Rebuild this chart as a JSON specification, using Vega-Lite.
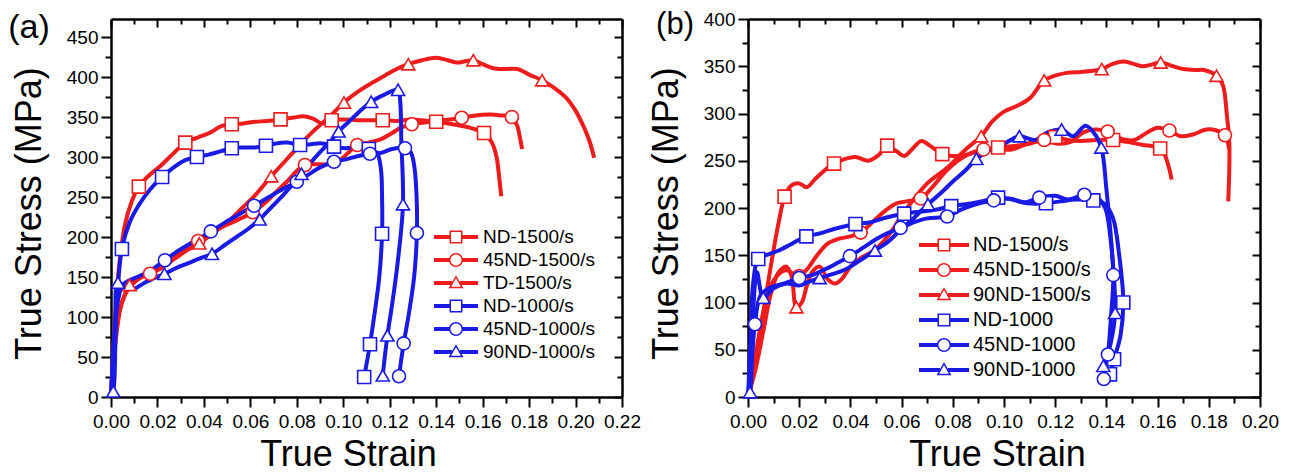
{
  "$schema": "https://vega.github.io/schema/vega-lite/v6.json",
  "padding": {"left": 8, "top": 8, "right": 0, "bottom": 0},
  "background": "white",
  "datasets": {
    "a_lines": [
      {"s":"ND-1500/s","x":0,"y":0},{"s":"ND-1500/s","x":0.001,"y":60},{"s":"ND-1500/s","x":0.003,"y":150},{"s":"ND-1500/s","x":0.006,"y":215},{"s":"ND-1500/s","x":0.009,"y":245},{"s":"ND-1500/s","x":0.012,"y":263},{"s":"ND-1500/s","x":0.016,"y":276},{"s":"ND-1500/s","x":0.021,"y":288},{"s":"ND-1500/s","x":0.026,"y":302},{"s":"ND-1500/s","x":0.032,"y":318},{"s":"ND-1500/s","x":0.037,"y":324},{"s":"ND-1500/s","x":0.043,"y":331},{"s":"ND-1500/s","x":0.047,"y":338},{"s":"ND-1500/s","x":0.052,"y":341},{"s":"ND-1500/s","x":0.057,"y":342},{"s":"ND-1500/s","x":0.062,"y":344},{"s":"ND-1500/s","x":0.067,"y":345},{"s":"ND-1500/s","x":0.073,"y":347},{"s":"ND-1500/s","x":0.078,"y":349},{"s":"ND-1500/s","x":0.083,"y":351},{"s":"ND-1500/s","x":0.087,"y":348},{"s":"ND-1500/s","x":0.091,"y":342},{"s":"ND-1500/s","x":0.095,"y":346},{"s":"ND-1500/s","x":0.1,"y":347},{"s":"ND-1500/s","x":0.106,"y":346},{"s":"ND-1500/s","x":0.111,"y":346},{"s":"ND-1500/s","x":0.117,"y":346},{"s":"ND-1500/s","x":0.123,"y":345},{"s":"ND-1500/s","x":0.129,"y":347},{"s":"ND-1500/s","x":0.134,"y":346},{"s":"ND-1500/s","x":0.14,"y":344},{"s":"ND-1500/s","x":0.147,"y":341},{"s":"ND-1500/s","x":0.154,"y":337},{"s":"ND-1500/s","x":0.1606,"y":330},{"s":"ND-1500/s","x":0.164,"y":318},{"s":"ND-1500/s","x":0.166,"y":300},{"s":"ND-1500/s","x":0.167,"y":278},{"s":"ND-1500/s","x":0.168,"y":251},
      {"s":"45ND-1500/s","x":0,"y":0},{"s":"45ND-1500/s","x":0.001,"y":50},{"s":"45ND-1500/s","x":0.003,"y":100},{"s":"45ND-1500/s","x":0.006,"y":128},{"s":"45ND-1500/s","x":0.009,"y":140},{"s":"45ND-1500/s","x":0.013,"y":150},{"s":"45ND-1500/s","x":0.0168,"y":154},{"s":"45ND-1500/s","x":0.021,"y":160},{"s":"45ND-1500/s","x":0.026,"y":170},{"s":"45ND-1500/s","x":0.031,"y":180},{"s":"45ND-1500/s","x":0.0375,"y":195},{"s":"45ND-1500/s","x":0.043,"y":205},{"s":"45ND-1500/s","x":0.049,"y":214},{"s":"45ND-1500/s","x":0.055,"y":222},{"s":"45ND-1500/s","x":0.061,"y":231},{"s":"45ND-1500/s","x":0.066,"y":242},{"s":"45ND-1500/s","x":0.071,"y":256},{"s":"45ND-1500/s","x":0.076,"y":270},{"s":"45ND-1500/s","x":0.0805,"y":284},{"s":"45ND-1500/s","x":0.0835,"y":290},{"s":"45ND-1500/s","x":0.088,"y":291},{"s":"45ND-1500/s","x":0.093,"y":291},{"s":"45ND-1500/s","x":0.098,"y":295},{"s":"45ND-1500/s","x":0.102,"y":305},{"s":"45ND-1500/s","x":0.106,"y":315},{"s":"45ND-1500/s","x":0.111,"y":318},{"s":"45ND-1500/s","x":0.116,"y":322},{"s":"45ND-1500/s","x":0.121,"y":330},{"s":"45ND-1500/s","x":0.125,"y":337},{"s":"45ND-1500/s","x":0.1295,"y":341},{"s":"45ND-1500/s","x":0.135,"y":343},{"s":"45ND-1500/s","x":0.14,"y":345},{"s":"45ND-1500/s","x":0.146,"y":347},{"s":"45ND-1500/s","x":0.151,"y":349},{"s":"45ND-1500/s","x":0.157,"y":352},{"s":"45ND-1500/s","x":0.163,"y":353},{"s":"45ND-1500/s","x":0.168,"y":352},{"s":"45ND-1500/s","x":0.1726,"y":350},{"s":"45ND-1500/s","x":0.175,"y":338},{"s":"45ND-1500/s","x":0.176,"y":325},{"s":"45ND-1500/s","x":0.177,"y":310},
      {"s":"TD-1500/s","x":0,"y":0},{"s":"TD-1500/s","x":0.002,"y":70},{"s":"TD-1500/s","x":0.004,"y":110},{"s":"TD-1500/s","x":0.006,"y":128},{"s":"TD-1500/s","x":0.008,"y":140},{"s":"TD-1500/s","x":0.012,"y":148},{"s":"TD-1500/s","x":0.017,"y":156},{"s":"TD-1500/s","x":0.022,"y":165},{"s":"TD-1500/s","x":0.028,"y":176},{"s":"TD-1500/s","x":0.033,"y":184},{"s":"TD-1500/s","x":0.038,"y":192},{"s":"TD-1500/s","x":0.044,"y":205},{"s":"TD-1500/s","x":0.05,"y":218},{"s":"TD-1500/s","x":0.056,"y":235},{"s":"TD-1500/s","x":0.062,"y":252},{"s":"TD-1500/s","x":0.069,"y":276},{"s":"TD-1500/s","x":0.075,"y":295},{"s":"TD-1500/s","x":0.081,"y":314},{"s":"TD-1500/s","x":0.087,"y":332},{"s":"TD-1500/s","x":0.094,"y":350},{"s":"TD-1500/s","x":0.1003,"y":368},{"s":"TD-1500/s","x":0.106,"y":381},{"s":"TD-1500/s","x":0.112,"y":392},{"s":"TD-1500/s","x":0.118,"y":402},{"s":"TD-1500/s","x":0.123,"y":410},{"s":"TD-1500/s","x":0.128,"y":416},{"s":"TD-1500/s","x":0.134,"y":421},{"s":"TD-1500/s","x":0.14,"y":424},{"s":"TD-1500/s","x":0.145,"y":421},{"s":"TD-1500/s","x":0.149,"y":418},{"s":"TD-1500/s","x":0.153,"y":420},{"s":"TD-1500/s","x":0.156,"y":421},{"s":"TD-1500/s","x":0.16,"y":416},{"s":"TD-1500/s","x":0.1645,"y":411},{"s":"TD-1500/s","x":0.17,"y":410},{"s":"TD-1500/s","x":0.175,"y":410},{"s":"TD-1500/s","x":0.18,"y":403},{"s":"TD-1500/s","x":0.1856,"y":396},{"s":"TD-1500/s","x":0.191,"y":386},{"s":"TD-1500/s","x":0.196,"y":374},{"s":"TD-1500/s","x":0.2,"y":358},{"s":"TD-1500/s","x":0.203,"y":341},{"s":"TD-1500/s","x":0.206,"y":320},{"s":"TD-1500/s","x":0.208,"y":299},
      {"s":"ND-1000/s","x":0,"y":0},{"s":"ND-1000/s","x":0.001,"y":60},{"s":"ND-1000/s","x":0.003,"y":140},{"s":"ND-1000/s","x":0.0047,"y":185},{"s":"ND-1000/s","x":0.008,"y":218},{"s":"ND-1000/s","x":0.012,"y":240},{"s":"ND-1000/s","x":0.017,"y":260},{"s":"ND-1000/s","x":0.022,"y":275},{"s":"ND-1000/s","x":0.027,"y":287},{"s":"ND-1000/s","x":0.032,"y":296},{"s":"ND-1000/s","x":0.037,"y":300},{"s":"ND-1000/s","x":0.042,"y":303},{"s":"ND-1000/s","x":0.047,"y":307},{"s":"ND-1000/s","x":0.052,"y":311},{"s":"ND-1000/s","x":0.057,"y":312},{"s":"ND-1000/s","x":0.062,"y":312},{"s":"ND-1000/s","x":0.0667,"y":314},{"s":"ND-1000/s","x":0.071,"y":317},{"s":"ND-1000/s","x":0.076,"y":318},{"s":"ND-1000/s","x":0.0814,"y":315},{"s":"ND-1000/s","x":0.086,"y":316},{"s":"ND-1000/s","x":0.091,"y":317},{"s":"ND-1000/s","x":0.096,"y":313},{"s":"ND-1000/s","x":0.101,"y":311},{"s":"ND-1000/s","x":0.106,"y":312},{"s":"ND-1000/s","x":0.111,"y":310},{"s":"ND-1000/s","x":0.1145,"y":305},{"s":"ND-1000/s","x":0.1162,"y":285},{"s":"ND-1000/s","x":0.1167,"y":250},{"s":"ND-1000/s","x":0.1167,"y":204},{"s":"ND-1000/s","x":0.1155,"y":150},{"s":"ND-1000/s","x":0.1135,"y":105},{"s":"ND-1000/s","x":0.1115,"y":66},{"s":"ND-1000/s","x":0.109,"y":25},
      {"s":"45ND-1000/s","x":0,"y":0},{"s":"45ND-1000/s","x":0.001,"y":50},{"s":"45ND-1000/s","x":0.003,"y":120},{"s":"45ND-1000/s","x":0.005,"y":140},{"s":"45ND-1000/s","x":0.008,"y":146},{"s":"45ND-1000/s","x":0.012,"y":151},{"s":"45ND-1000/s","x":0.017,"y":158},{"s":"45ND-1000/s","x":0.0232,"y":171},{"s":"45ND-1000/s","x":0.029,"y":183},{"s":"45ND-1000/s","x":0.036,"y":195},{"s":"45ND-1000/s","x":0.043,"y":207},{"s":"45ND-1000/s","x":0.049,"y":218},{"s":"45ND-1000/s","x":0.055,"y":228},{"s":"45ND-1000/s","x":0.0616,"y":239},{"s":"45ND-1000/s","x":0.068,"y":250},{"s":"45ND-1000/s","x":0.074,"y":260},{"s":"45ND-1000/s","x":0.08,"y":269},{"s":"45ND-1000/s","x":0.085,"y":278},{"s":"45ND-1000/s","x":0.09,"y":287},{"s":"45ND-1000/s","x":0.096,"y":294},{"s":"45ND-1000/s","x":0.101,"y":297},{"s":"45ND-1000/s","x":0.106,"y":301},{"s":"45ND-1000/s","x":0.1115,"y":304},{"s":"45ND-1000/s","x":0.116,"y":305},{"s":"45ND-1000/s","x":0.121,"y":310},{"s":"45ND-1000/s","x":0.1266,"y":311},{"s":"45ND-1000/s","x":0.129,"y":306},{"s":"45ND-1000/s","x":0.1305,"y":290},{"s":"45ND-1000/s","x":0.1315,"y":255},{"s":"45ND-1000/s","x":0.1317,"y":205},{"s":"45ND-1000/s","x":0.1305,"y":150},{"s":"45ND-1000/s","x":0.128,"y":100},{"s":"45ND-1000/s","x":0.126,"y":67},{"s":"45ND-1000/s","x":0.124,"y":26},
      {"s":"90ND-1000/s","x":0,"y":0},{"s":"90ND-1000/s","x":0.001,"y":7},{"s":"90ND-1000/s","x":0.002,"y":80},{"s":"90ND-1000/s","x":0.003,"y":143},{"s":"90ND-1000/s","x":0.006,"y":138},{"s":"90ND-1000/s","x":0.0095,"y":135},{"s":"90ND-1000/s","x":0.014,"y":142},{"s":"90ND-1000/s","x":0.018,"y":148},{"s":"90ND-1000/s","x":0.023,"y":154},{"s":"90ND-1000/s","x":0.028,"y":161},{"s":"90ND-1000/s","x":0.033,"y":167},{"s":"90ND-1000/s","x":0.038,"y":173},{"s":"90ND-1000/s","x":0.0435,"y":179},{"s":"90ND-1000/s","x":0.049,"y":190},{"s":"90ND-1000/s","x":0.054,"y":200},{"s":"90ND-1000/s","x":0.059,"y":210},{"s":"90ND-1000/s","x":0.064,"y":222},{"s":"90ND-1000/s","x":0.069,"y":237},{"s":"90ND-1000/s","x":0.074,"y":252},{"s":"90ND-1000/s","x":0.078,"y":265},{"s":"90ND-1000/s","x":0.082,"y":279},{"s":"90ND-1000/s","x":0.086,"y":293},{"s":"90ND-1000/s","x":0.09,"y":306},{"s":"90ND-1000/s","x":0.094,"y":318},{"s":"90ND-1000/s","x":0.098,"y":332},{"s":"90ND-1000/s","x":0.102,"y":343},{"s":"90ND-1000/s","x":0.107,"y":357},{"s":"90ND-1000/s","x":0.112,"y":369},{"s":"90ND-1000/s","x":0.117,"y":377},{"s":"90ND-1000/s","x":0.1236,"y":384},{"s":"90ND-1000/s","x":0.1245,"y":370},{"s":"90ND-1000/s","x":0.125,"y":320},{"s":"90ND-1000/s","x":0.1257,"y":241},{"s":"90ND-1000/s","x":0.1235,"y":170},{"s":"90ND-1000/s","x":0.121,"y":115},{"s":"90ND-1000/s","x":0.119,"y":77},{"s":"90ND-1000/s","x":0.117,"y":27}
    ],
    "a_marks": [
      {"s":"ND-1500/s","x":0.012,"y":263},{"s":"ND-1500/s","x":0.032,"y":318},{"s":"ND-1500/s","x":0.052,"y":341},{"s":"ND-1500/s","x":0.073,"y":347},{"s":"ND-1500/s","x":0.095,"y":346},{"s":"ND-1500/s","x":0.117,"y":346},{"s":"ND-1500/s","x":0.14,"y":344},{"s":"ND-1500/s","x":0.1606,"y":330},
      {"s":"45ND-1500/s","x":0.0168,"y":154},{"s":"45ND-1500/s","x":0.0375,"y":195},{"s":"45ND-1500/s","x":0.061,"y":231},{"s":"45ND-1500/s","x":0.0835,"y":290},{"s":"45ND-1500/s","x":0.106,"y":315},{"s":"45ND-1500/s","x":0.1295,"y":341},{"s":"45ND-1500/s","x":0.151,"y":349},{"s":"45ND-1500/s","x":0.1726,"y":350},
      {"s":"TD-1500/s","x":0.008,"y":140},{"s":"TD-1500/s","x":0.038,"y":192},{"s":"TD-1500/s","x":0.069,"y":276},{"s":"TD-1500/s","x":0.1003,"y":368},{"s":"TD-1500/s","x":0.128,"y":416},{"s":"TD-1500/s","x":0.156,"y":421},{"s":"TD-1500/s","x":0.1856,"y":396},
      {"s":"ND-1000/s","x":0.0047,"y":185},{"s":"ND-1000/s","x":0.022,"y":275},{"s":"ND-1000/s","x":0.037,"y":300},{"s":"ND-1000/s","x":0.052,"y":311},{"s":"ND-1000/s","x":0.0667,"y":314},{"s":"ND-1000/s","x":0.0814,"y":315},{"s":"ND-1000/s","x":0.096,"y":313},{"s":"ND-1000/s","x":0.111,"y":310},{"s":"ND-1000/s","x":0.1167,"y":204},{"s":"ND-1000/s","x":0.1115,"y":66},{"s":"ND-1000/s","x":0.109,"y":25},
      {"s":"45ND-1000/s","x":0.0232,"y":171},{"s":"45ND-1000/s","x":0.043,"y":207},{"s":"45ND-1000/s","x":0.0616,"y":239},{"s":"45ND-1000/s","x":0.08,"y":269},{"s":"45ND-1000/s","x":0.096,"y":294},{"s":"45ND-1000/s","x":0.1115,"y":304},{"s":"45ND-1000/s","x":0.1266,"y":311},{"s":"45ND-1000/s","x":0.1317,"y":205},{"s":"45ND-1000/s","x":0.126,"y":67},{"s":"45ND-1000/s","x":0.124,"y":26},
      {"s":"90ND-1000/s","x":0.001,"y":7},{"s":"90ND-1000/s","x":0.003,"y":143},{"s":"90ND-1000/s","x":0.023,"y":154},{"s":"90ND-1000/s","x":0.0435,"y":179},{"s":"90ND-1000/s","x":0.064,"y":222},{"s":"90ND-1000/s","x":0.082,"y":279},{"s":"90ND-1000/s","x":0.098,"y":332},{"s":"90ND-1000/s","x":0.112,"y":369},{"s":"90ND-1000/s","x":0.1236,"y":384},{"s":"90ND-1000/s","x":0.1257,"y":241},{"s":"90ND-1000/s","x":0.119,"y":77},{"s":"90ND-1000/s","x":0.117,"y":27}
    ],
    "b_lines": [
      {"s":"ND-1500/s","x":0,"y":0},{"s":"ND-1500/s","x":0.003,"y":40},{"s":"ND-1500/s","x":0.006,"y":90},{"s":"ND-1500/s","x":0.009,"y":140},{"s":"ND-1500/s","x":0.012,"y":185},{"s":"ND-1500/s","x":0.0143,"y":212},{"s":"ND-1500/s","x":0.017,"y":224},{"s":"ND-1500/s","x":0.02,"y":226},{"s":"ND-1500/s","x":0.023,"y":222},{"s":"ND-1500/s","x":0.026,"y":230},{"s":"ND-1500/s","x":0.03,"y":240},{"s":"ND-1500/s","x":0.0336,"y":247},{"s":"ND-1500/s","x":0.038,"y":252},{"s":"ND-1500/s","x":0.042,"y":254},{"s":"ND-1500/s","x":0.047,"y":250},{"s":"ND-1500/s","x":0.051,"y":256},{"s":"ND-1500/s","x":0.0544,"y":266},{"s":"ND-1500/s","x":0.058,"y":260},{"s":"ND-1500/s","x":0.061,"y":255},{"s":"ND-1500/s","x":0.064,"y":262},{"s":"ND-1500/s","x":0.0677,"y":271},{"s":"ND-1500/s","x":0.071,"y":266},{"s":"ND-1500/s","x":0.0759,"y":257},{"s":"ND-1500/s","x":0.08,"y":255},{"s":"ND-1500/s","x":0.085,"y":256},{"s":"ND-1500/s","x":0.09,"y":260},{"s":"ND-1500/s","x":0.0977,"y":264},{"s":"ND-1500/s","x":0.105,"y":266},{"s":"ND-1500/s","x":0.11,"y":268},{"s":"ND-1500/s","x":0.115,"y":272},{"s":"ND-1500/s","x":0.12,"y":275},{"s":"ND-1500/s","x":0.125,"y":272},{"s":"ND-1500/s","x":0.13,"y":271},{"s":"ND-1500/s","x":0.136,"y":272},{"s":"ND-1500/s","x":0.1426,"y":272},{"s":"ND-1500/s","x":0.148,"y":270},{"s":"ND-1500/s","x":0.154,"y":267},{"s":"ND-1500/s","x":0.161,"y":263},{"s":"ND-1500/s","x":0.163,"y":255},{"s":"ND-1500/s","x":0.1645,"y":242},{"s":"ND-1500/s","x":0.1655,"y":230},
      {"s":"45ND-1500/s","x":0,"y":0},{"s":"45ND-1500/s","x":0.003,"y":45},{"s":"45ND-1500/s","x":0.006,"y":90},{"s":"45ND-1500/s","x":0.009,"y":118},{"s":"45ND-1500/s","x":0.012,"y":130},{"s":"45ND-1500/s","x":0.015,"y":134},{"s":"45ND-1500/s","x":0.018,"y":130},{"s":"45ND-1500/s","x":0.02,"y":128},{"s":"45ND-1500/s","x":0.023,"y":135},{"s":"45ND-1500/s","x":0.027,"y":150},{"s":"45ND-1500/s","x":0.031,"y":162},{"s":"45ND-1500/s","x":0.035,"y":167},{"s":"45ND-1500/s","x":0.04,"y":170},{"s":"45ND-1500/s","x":0.044,"y":174},{"s":"45ND-1500/s","x":0.049,"y":186},{"s":"45ND-1500/s","x":0.054,"y":198},{"s":"45ND-1500/s","x":0.058,"y":205},{"s":"45ND-1500/s","x":0.062,"y":207},{"s":"45ND-1500/s","x":0.0675,"y":210},{"s":"45ND-1500/s","x":0.072,"y":222},{"s":"45ND-1500/s","x":0.077,"y":238},{"s":"45ND-1500/s","x":0.082,"y":250},{"s":"45ND-1500/s","x":0.087,"y":258},{"s":"45ND-1500/s","x":0.092,"y":262},{"s":"45ND-1500/s","x":0.097,"y":262},{"s":"45ND-1500/s","x":0.103,"y":262},{"s":"45ND-1500/s","x":0.109,"y":268},{"s":"45ND-1500/s","x":0.1157,"y":272},{"s":"45ND-1500/s","x":0.121,"y":268},{"s":"45ND-1500/s","x":0.126,"y":270},{"s":"45ND-1500/s","x":0.131,"y":280},{"s":"45ND-1500/s","x":0.1355,"y":283},{"s":"45ND-1500/s","x":0.1405,"y":281},{"s":"45ND-1500/s","x":0.146,"y":273},{"s":"45ND-1500/s","x":0.151,"y":272},{"s":"45ND-1500/s","x":0.156,"y":280},{"s":"45ND-1500/s","x":0.16,"y":285},{"s":"45ND-1500/s","x":0.1646,"y":282},{"s":"45ND-1500/s","x":0.169,"y":276},{"s":"45ND-1500/s","x":0.174,"y":278},{"s":"45ND-1500/s","x":0.179,"y":283},{"s":"45ND-1500/s","x":0.183,"y":282},{"s":"45ND-1500/s","x":0.1863,"y":277},{"s":"45ND-1500/s","x":0.188,"y":262},
      {"s":"90ND-1500/s","x":0,"y":0},{"s":"90ND-1500/s","x":0.003,"y":30},{"s":"90ND-1500/s","x":0.006,"y":70},{"s":"90ND-1500/s","x":0.009,"y":110},{"s":"90ND-1500/s","x":0.012,"y":132},{"s":"90ND-1500/s","x":0.015,"y":138},{"s":"90ND-1500/s","x":0.017,"y":128},{"s":"90ND-1500/s","x":0.0189,"y":95},{"s":"90ND-1500/s","x":0.021,"y":100},{"s":"90ND-1500/s","x":0.023,"y":118},{"s":"90ND-1500/s","x":0.025,"y":132},{"s":"90ND-1500/s","x":0.028,"y":138},{"s":"90ND-1500/s","x":0.031,"y":125},{"s":"90ND-1500/s","x":0.034,"y":120},{"s":"90ND-1500/s","x":0.037,"y":126},{"s":"90ND-1500/s","x":0.04,"y":138},{"s":"90ND-1500/s","x":0.044,"y":147},{"s":"90ND-1500/s","x":0.048,"y":153},{"s":"90ND-1500/s","x":0.052,"y":162},{"s":"90ND-1500/s","x":0.056,"y":175},{"s":"90ND-1500/s","x":0.06,"y":192},{"s":"90ND-1500/s","x":0.065,"y":210},{"s":"90ND-1500/s","x":0.07,"y":226},{"s":"90ND-1500/s","x":0.078,"y":243},{"s":"90ND-1500/s","x":0.085,"y":262},{"s":"90ND-1500/s","x":0.0911,"y":276},{"s":"90ND-1500/s","x":0.0955,"y":292},{"s":"90ND-1500/s","x":0.1,"y":302},{"s":"90ND-1500/s","x":0.105,"y":308},{"s":"90ND-1500/s","x":0.11,"y":316},{"s":"90ND-1500/s","x":0.1157,"y":335},{"s":"90ND-1500/s","x":0.12,"y":340},{"s":"90ND-1500/s","x":0.1245,"y":343},{"s":"90ND-1500/s","x":0.13,"y":344},{"s":"90ND-1500/s","x":0.134,"y":345},{"s":"90ND-1500/s","x":0.1382,"y":347},{"s":"90ND-1500/s","x":0.142,"y":352},{"s":"90ND-1500/s","x":0.1465,"y":355},{"s":"90ND-1500/s","x":0.15,"y":353},{"s":"90ND-1500/s","x":0.154,"y":350},{"s":"90ND-1500/s","x":0.158,"y":352},{"s":"90ND-1500/s","x":0.1612,"y":354},{"s":"90ND-1500/s","x":0.166,"y":350},{"s":"90ND-1500/s","x":0.17,"y":347},{"s":"90ND-1500/s","x":0.175,"y":346},{"s":"90ND-1500/s","x":0.178,"y":346},{"s":"90ND-1500/s","x":0.183,"y":340},{"s":"90ND-1500/s","x":0.1855,"y":330},{"s":"90ND-1500/s","x":0.187,"y":300},{"s":"90ND-1500/s","x":0.188,"y":270},{"s":"90ND-1500/s","x":0.188,"y":240},{"s":"90ND-1500/s","x":0.1876,"y":207},
      {"s":"ND-1000","x":0,"y":0},{"s":"ND-1000","x":0.001,"y":60},{"s":"ND-1000","x":0.002,"y":120},{"s":"ND-1000","x":0.004,"y":146},{"s":"ND-1000","x":0.008,"y":151},{"s":"ND-1000","x":0.012,"y":155},{"s":"ND-1000","x":0.017,"y":162},{"s":"ND-1000","x":0.0228,"y":170},{"s":"ND-1000","x":0.028,"y":173},{"s":"ND-1000","x":0.034,"y":178},{"s":"ND-1000","x":0.042,"y":183},{"s":"ND-1000","x":0.048,"y":185},{"s":"ND-1000","x":0.054,"y":190},{"s":"ND-1000","x":0.061,"y":194},{"s":"ND-1000","x":0.067,"y":196},{"s":"ND-1000","x":0.073,"y":198},{"s":"ND-1000","x":0.0794,"y":202},{"s":"ND-1000","x":0.085,"y":204},{"s":"ND-1000","x":0.091,"y":207},{"s":"ND-1000","x":0.0977,"y":211},{"s":"ND-1000","x":0.103,"y":209},{"s":"ND-1000","x":0.109,"y":205},{"s":"ND-1000","x":0.1164,"y":205},{"s":"ND-1000","x":0.122,"y":207},{"s":"ND-1000","x":0.128,"y":209},{"s":"ND-1000","x":0.1349,"y":208},{"s":"ND-1000","x":0.139,"y":205},{"s":"ND-1000","x":0.1425,"y":190},{"s":"ND-1000","x":0.145,"y":150},{"s":"ND-1000","x":0.1466,"y":100},{"s":"ND-1000","x":0.1455,"y":65},{"s":"ND-1000","x":0.143,"y":40},{"s":"ND-1000","x":0.1414,"y":24},
      {"s":"45ND-1000","x":0,"y":0},{"s":"45ND-1000","x":0.0015,"y":40},{"s":"45ND-1000","x":0.0027,"y":77},{"s":"45ND-1000","x":0.005,"y":108},{"s":"45ND-1000","x":0.009,"y":116},{"s":"45ND-1000","x":0.014,"y":120},{"s":"45ND-1000","x":0.02,"y":126},{"s":"45ND-1000","x":0.025,"y":129},{"s":"45ND-1000","x":0.03,"y":135},{"s":"45ND-1000","x":0.035,"y":142},{"s":"45ND-1000","x":0.0398,"y":149},{"s":"45ND-1000","x":0.045,"y":158},{"s":"45ND-1000","x":0.05,"y":167},{"s":"45ND-1000","x":0.055,"y":174},{"s":"45ND-1000","x":0.0596,"y":179},{"s":"45ND-1000","x":0.065,"y":185},{"s":"45ND-1000","x":0.07,"y":189},{"s":"45ND-1000","x":0.0778,"y":191},{"s":"45ND-1000","x":0.083,"y":198},{"s":"45ND-1000","x":0.089,"y":204},{"s":"45ND-1000","x":0.096,"y":208},{"s":"45ND-1000","x":0.102,"y":210},{"s":"45ND-1000","x":0.108,"y":206},{"s":"45ND-1000","x":0.1138,"y":211},{"s":"45ND-1000","x":0.12,"y":213},{"s":"45ND-1000","x":0.125,"y":209},{"s":"45ND-1000","x":0.1314,"y":214},{"s":"45ND-1000","x":0.136,"y":212},{"s":"45ND-1000","x":0.1395,"y":200},{"s":"45ND-1000","x":0.1415,"y":170},{"s":"45ND-1000","x":0.1427,"y":129},{"s":"45ND-1000","x":0.1418,"y":85},{"s":"45ND-1000","x":0.1406,"y":45},{"s":"45ND-1000","x":0.139,"y":19},
      {"s":"90ND-1000","x":0,"y":0},{"s":"90ND-1000","x":0.0008,"y":5},{"s":"90ND-1000","x":0.002,"y":90},{"s":"90ND-1000","x":0.0035,"y":132},{"s":"90ND-1000","x":0.006,"y":105},{"s":"90ND-1000","x":0.01,"y":115},{"s":"90ND-1000","x":0.015,"y":120},{"s":"90ND-1000","x":0.02,"y":118},{"s":"90ND-1000","x":0.024,"y":122},{"s":"90ND-1000","x":0.028,"y":126},{"s":"90ND-1000","x":0.033,"y":130},{"s":"90ND-1000","x":0.038,"y":135},{"s":"90ND-1000","x":0.044,"y":145},{"s":"90ND-1000","x":0.0496,"y":155},{"s":"90ND-1000","x":0.055,"y":165},{"s":"90ND-1000","x":0.06,"y":178},{"s":"90ND-1000","x":0.065,"y":190},{"s":"90ND-1000","x":0.0703,"y":204},{"s":"90ND-1000","x":0.075,"y":215},{"s":"90ND-1000","x":0.08,"y":228},{"s":"90ND-1000","x":0.085,"y":240},{"s":"90ND-1000","x":0.0892,"y":252},{"s":"90ND-1000","x":0.095,"y":262},{"s":"90ND-1000","x":0.1,"y":268},{"s":"90ND-1000","x":0.106,"y":276},{"s":"90ND-1000","x":0.112,"y":272},{"s":"90ND-1000","x":0.117,"y":280},{"s":"90ND-1000","x":0.1225,"y":283},{"s":"90ND-1000","x":0.127,"y":276},{"s":"90ND-1000","x":0.1318,"y":287},{"s":"90ND-1000","x":0.135,"y":280},{"s":"90ND-1000","x":0.138,"y":264},{"s":"90ND-1000","x":0.14,"y":220},{"s":"90ND-1000","x":0.142,"y":160},{"s":"90ND-1000","x":0.1434,"y":89},{"s":"90ND-1000","x":0.1415,"y":55},{"s":"90ND-1000","x":0.1388,"y":33}
    ],
    "b_marks": [
      {"s":"ND-1500/s","x":0.0143,"y":212},{"s":"ND-1500/s","x":0.0336,"y":247},{"s":"ND-1500/s","x":0.0544,"y":266},{"s":"ND-1500/s","x":0.0759,"y":257},{"s":"ND-1500/s","x":0.0977,"y":264},{"s":"ND-1500/s","x":0.12,"y":275},{"s":"ND-1500/s","x":0.1426,"y":272},{"s":"ND-1500/s","x":0.161,"y":263},
      {"s":"45ND-1500/s","x":0.02,"y":128},{"s":"45ND-1500/s","x":0.044,"y":174},{"s":"45ND-1500/s","x":0.0675,"y":210},{"s":"45ND-1500/s","x":0.092,"y":262},{"s":"45ND-1500/s","x":0.1157,"y":272},{"s":"45ND-1500/s","x":0.1405,"y":281},{"s":"45ND-1500/s","x":0.1646,"y":282},{"s":"45ND-1500/s","x":0.1863,"y":277},
      {"s":"90ND-1500/s","x":0.0189,"y":95},{"s":"90ND-1500/s","x":0.0911,"y":276},{"s":"90ND-1500/s","x":0.1157,"y":335},{"s":"90ND-1500/s","x":0.1382,"y":347},{"s":"90ND-1500/s","x":0.1612,"y":354},{"s":"90ND-1500/s","x":0.183,"y":340},
      {"s":"ND-1000","x":0.004,"y":146},{"s":"ND-1000","x":0.0228,"y":170},{"s":"ND-1000","x":0.042,"y":183},{"s":"ND-1000","x":0.061,"y":194},{"s":"ND-1000","x":0.0794,"y":202},{"s":"ND-1000","x":0.0977,"y":211},{"s":"ND-1000","x":0.1164,"y":205},{"s":"ND-1000","x":0.1349,"y":208},{"s":"ND-1000","x":0.1466,"y":100},{"s":"ND-1000","x":0.143,"y":40},{"s":"ND-1000","x":0.1414,"y":24},
      {"s":"45ND-1000","x":0.0027,"y":77},{"s":"45ND-1000","x":0.02,"y":126},{"s":"45ND-1000","x":0.0398,"y":149},{"s":"45ND-1000","x":0.0596,"y":179},{"s":"45ND-1000","x":0.0778,"y":191},{"s":"45ND-1000","x":0.096,"y":208},{"s":"45ND-1000","x":0.1138,"y":211},{"s":"45ND-1000","x":0.1314,"y":214},{"s":"45ND-1000","x":0.1427,"y":129},{"s":"45ND-1000","x":0.1406,"y":45},{"s":"45ND-1000","x":0.139,"y":19},
      {"s":"90ND-1000","x":0.0008,"y":5},{"s":"90ND-1000","x":0.006,"y":105},{"s":"90ND-1000","x":0.028,"y":126},{"s":"90ND-1000","x":0.0496,"y":155},{"s":"90ND-1000","x":0.0703,"y":204},{"s":"90ND-1000","x":0.0892,"y":252},{"s":"90ND-1000","x":0.106,"y":276},{"s":"90ND-1000","x":0.1225,"y":283},{"s":"90ND-1000","x":0.138,"y":264},{"s":"90ND-1000","x":0.1434,"y":89},{"s":"90ND-1000","x":0.1388,"y":33}
    ],
    "one": [{"k": 1}]
  },
  "hconcat": [
    {
      "width": 511, "height": 378,
      "layer": [
        {
          "data": {"name": "a_lines"},
          "transform": [{"filter": {"field": "s", "oneOf": ["ND-1500/s","45ND-1500/s","TD-1500/s"]}}],
          "mark": {"type": "line", "strokeWidth": 4, "interpolate": "catmull-rom", "color": "#ee1c1c"},
          "encoding": {
            "x": {"field": "x", "type": "quantitative", "scale": {"domain": [0, 0.22], "nice": false, "zero": false},
                  "axis": {"orient": "bottom", "values": [0,0.02,0.04,0.06,0.08,0.1,0.12,0.14,0.16,0.18,0.2,0.22], "format": ".2f", "tickSize": 10, "labelPadding": 5, "title": "True Strain", "titlePadding": 6, "titleX": 237}},
            "y": {"field": "y", "type": "quantitative", "scale": {"domain": [0, 472.5], "nice": false, "zero": false},
                  "axis": {"orient": "left", "values": [0,50,100,150,200,250,300,350,400,450], "tickSize": 10, "labelPadding": 3, "title": "True Stress (MPa)", "titlePadding": 18, "titleY": 194}},
            "detail": {"field": "s", "type": "nominal"},
            "order": {"value": null}
          }
        },
        {
          "data": {"name": "a_lines"},
          "transform": [{"filter": {"field": "s", "oneOf": ["ND-1000/s","45ND-1000/s","90ND-1000/s"]}}],
          "mark": {"type": "line", "strokeWidth": 4, "interpolate": "catmull-rom", "color": "#1a1ae6"},
          "encoding": {
            "x": {"field": "x", "type": "quantitative",
                  "axis": {"orient": "bottom", "values": [0.01,0.03,0.05,0.07,0.09,0.11,0.13,0.15,0.17,0.19,0.21], "labels": false, "domain": false, "tickSize": 6, "title": null}},
            "y": {"field": "y", "type": "quantitative",
                  "axis": {"orient": "left", "values": [25,75,125,175,225,275,325,375,425], "labels": false, "domain": false, "tickSize": 6, "title": null}},
            "detail": {"field": "s", "type": "nominal"},
            "order": {"value": null}
          }
        },
        {
          "data": {"name": "a_marks"},
          "mark": {"type": "point", "filled": false, "fill": "white", "strokeWidth": 1.6, "size": 170, "opacity": 1},
          "encoding": {
            "x": {"field": "x", "type": "quantitative",
                  "axis": {"orient": "top", "values": [0,0.02,0.04,0.06,0.08,0.1,0.12,0.14,0.16,0.18,0.2,0.22], "labels": false, "tickSize": -8, "title": null}},
            "y": {"field": "y", "type": "quantitative",
                  "axis": {"orient": "right", "values": [0,50,100,150,200,250,300,350,400,450], "labels": false, "tickSize": -8, "title": null}},
            "color": {"condition": {"test": "datum.s == 'ND-1500/s' || datum.s == '45ND-1500/s' || datum.s == 'TD-1500/s'", "value": "#ee1c1c"}, "value": "#1a1ae6"},
            "shape": {"field": "s", "type": "nominal", "legend": null,
                      "scale": {"domain": ["ND-1500/s","45ND-1500/s","TD-1500/s","ND-1000/s","45ND-1000/s","90ND-1000/s"], "range": ["square","circle","triangle-up","square","circle","triangle-up"]}}
          }
        },
        {
          "data": {"name": "one"},
          "mark": {"type": "text", "text": "(a)", "fontSize": 34, "font": "Liberation Sans", "align": "center", "baseline": "middle", "color": "black"},
          "encoding": {
            "x": {"datum": -0.0353, "type": "quantitative",
                  "axis": {"orient": "top", "values": [0.01,0.03,0.05,0.07,0.09,0.11,0.13,0.15,0.17,0.19,0.21], "labels": false, "domain": false, "tickSize": -5, "title": null}},
            "y": {"datum": 461, "type": "quantitative",
                  "axis": {"orient": "right", "values": [25,75,125,175,225,275,325,375,425], "labels": false, "domain": false, "tickSize": -5, "title": null}}
          }
        },
        {
          "data": {"name": "a_marks"},
          "mark": {"type": "point", "filled": true, "fillOpacity": 0, "strokeOpacity": 0, "strokeWidth": 0, "size": 1},
          "encoding": {
            "x": {"field": "x", "type": "quantitative", "axis": null},
            "y": {"field": "y", "type": "quantitative", "axis": null},
            "shape": {"field": "s", "type": "nominal",
                      "scale": {"domain": ["ND-1500/s","45ND-1500/s","TD-1500/s","ND-1000/s","45ND-1000/s","90ND-1000/s"],
                                "range": ["M-2.2,-0.2H-0.65V0.2H-2.2ZM0.65,-0.2H2.2V0.2H0.65ZM-0.65,-0.65H0.65V0.65H-0.65ZM-0.5,-0.5V0.5H0.5V-0.5Z",
                                          "M-2.2,-0.2H-0.65V0.2H-2.2ZM0.65,-0.2H2.2V0.2H0.65ZM-0.7,0A0.7,0.7 0 1,1 0.7,0A0.7,0.7 0 1,1 -0.7,0ZM-0.55,0A0.55,0.55 0 1,0 0.55,0A0.55,0.55 0 1,0 -0.55,0Z",
                                          "M-2.2,-0.2H-0.4V0.2H-2.2ZM0.4,-0.2H2.2V0.2H0.4ZM0,-0.78L0.75,0.52L-0.75,0.52ZM0,-0.48L-0.49,0.37L0.49,0.37Z",
                                          "M-2.2,-0.2H-0.65V0.2H-2.2ZM0.65,-0.2H2.2V0.2H0.65ZM-0.65,-0.65H0.65V0.65H-0.65ZM-0.5,-0.5V0.5H0.5V-0.5Z",
                                          "M-2.2,-0.2H-0.65V0.2H-2.2ZM0.65,-0.2H2.2V0.2H0.65ZM-0.7,0A0.7,0.7 0 1,1 0.7,0A0.7,0.7 0 1,1 -0.7,0ZM-0.55,0A0.55,0.55 0 1,0 0.55,0A0.55,0.55 0 1,0 -0.55,0Z",
                                          "M-2.2,-0.2H-0.4V0.2H-2.2ZM0.4,-0.2H2.2V0.2H0.4ZM0,-0.78L0.75,0.52L-0.75,0.52ZM0,-0.48L-0.49,0.37L0.49,0.37Z"]},
                      "legend": {"orient": "none", "legendX": 335, "legendY": 208, "title": null, "symbolSize": 400, "symbolStrokeWidth": 0,
                                 "labelFontSize": 19, "labelFont": "Liberation Sans", "labelColor": "black", "rowPadding": 3, "labelOffset": 17,
                                 "encoding": {"symbols": {
                                   "fill": {"condition": {"test": "datum.value == 'ND-1500/s' || datum.value == '45ND-1500/s' || datum.value == 'TD-1500/s'", "value": "#ee1c1c"}, "value": "#1a1ae6"},
                                   "fillOpacity": {"value": 1},
                                   "opacity": {"value": 1},
                                   "strokeWidth": {"value": 0}
                                 }}}}
          }
        }
      ],
      "resolve": {"axis": {"x": "independent", "y": "independent"}, "scale": {"shape": "independent"}, "legend": {"shape": "independent"}}
    },
    {
      "width": 512, "height": 378,
      "layer": [
        {
          "data": {"name": "b_lines"},
          "transform": [{"filter": {"field": "s", "oneOf": ["ND-1500/s","45ND-1500/s","90ND-1500/s"]}}],
          "mark": {"type": "line", "strokeWidth": 4, "interpolate": "catmull-rom", "color": "#ee1c1c"},
          "encoding": {
            "x": {"field": "x", "type": "quantitative", "scale": {"domain": [0, 0.2], "nice": false, "zero": false},
                  "axis": {"orient": "bottom", "values": [0,0.02,0.04,0.06,0.08,0.1,0.12,0.14,0.16,0.18,0.2], "format": ".2f", "tickSize": 10, "labelPadding": 5, "title": "True Strain", "titlePadding": 6, "titleX": 249}},
            "y": {"field": "y", "type": "quantitative", "scale": {"domain": [0, 400], "nice": false, "zero": false},
                  "axis": {"orient": "left", "values": [0,50,100,150,200,250,300,350,400], "tickSize": 10, "labelPadding": 3, "title": "True Stress (MPa)", "titlePadding": 18, "titleY": 194}},
            "detail": {"field": "s", "type": "nominal"},
            "order": {"value": null}
          }
        },
        {
          "data": {"name": "b_lines"},
          "transform": [{"filter": {"field": "s", "oneOf": ["ND-1000","45ND-1000","90ND-1000"]}}],
          "mark": {"type": "line", "strokeWidth": 4, "interpolate": "catmull-rom", "color": "#1a1ae6"},
          "encoding": {
            "x": {"field": "x", "type": "quantitative",
                  "axis": {"orient": "bottom", "values": [0.01,0.03,0.05,0.07,0.09,0.11,0.13,0.15,0.17,0.19], "labels": false, "domain": false, "tickSize": 6, "title": null}},
            "y": {"field": "y", "type": "quantitative",
                  "axis": {"orient": "left", "values": [25,75,125,175,225,275,325,375], "labels": false, "domain": false, "tickSize": 6, "title": null}},
            "detail": {"field": "s", "type": "nominal"},
            "order": {"value": null}
          }
        },
        {
          "data": {"name": "b_marks"},
          "mark": {"type": "point", "filled": false, "fill": "white", "strokeWidth": 1.6, "size": 170, "opacity": 1},
          "encoding": {
            "x": {"field": "x", "type": "quantitative",
                  "axis": {"orient": "top", "values": [0,0.02,0.04,0.06,0.08,0.1,0.12,0.14,0.16,0.18,0.2], "labels": false, "tickSize": -8, "title": null}},
            "y": {"field": "y", "type": "quantitative",
                  "axis": {"orient": "right", "values": [0,50,100,150,200,250,300,350,400], "labels": false, "tickSize": -8, "title": null}},
            "color": {"condition": {"test": "datum.s == 'ND-1500/s' || datum.s == '45ND-1500/s' || datum.s == '90ND-1500/s'", "value": "#ee1c1c"}, "value": "#1a1ae6"},
            "shape": {"field": "s", "type": "nominal", "legend": null,
                      "scale": {"domain": ["ND-1500/s","45ND-1500/s","90ND-1500/s","ND-1000","45ND-1000","90ND-1000"], "range": ["square","circle","triangle-up","square","circle","triangle-up"]}}
          }
        },
        {
          "data": {"name": "one"},
          "mark": {"type": "text", "text": "(b)", "fontSize": 31, "font": "Liberation Sans", "align": "center", "baseline": "middle", "color": "black"},
          "encoding": {
            "x": {"datum": -0.0285, "type": "quantitative",
                  "axis": {"orient": "top", "values": [0.01,0.03,0.05,0.07,0.09,0.11,0.13,0.15,0.17,0.19], "labels": false, "domain": false, "tickSize": -5, "title": null}},
            "y": {"datum": 393.7, "type": "quantitative",
                  "axis": {"orient": "right", "values": [25,75,125,175,225,275,325,375], "labels": false, "domain": false, "tickSize": -5, "title": null}}
          }
        },
        {
          "data": {"name": "b_marks"},
          "mark": {"type": "point", "filled": true, "fillOpacity": 0, "strokeOpacity": 0, "strokeWidth": 0, "size": 1},
          "encoding": {
            "x": {"field": "x", "type": "quantitative", "axis": null},
            "y": {"field": "y", "type": "quantitative", "axis": null},
            "shape": {"field": "s", "type": "nominal",
                      "scale": {"domain": ["ND-1500/s","45ND-1500/s","90ND-1500/s","ND-1000","45ND-1000","90ND-1000"],
                                "range": ["M-2.5,-0.2H-0.65V0.2H-2.5ZM0.65,-0.2H2.5V0.2H0.65ZM-0.65,-0.65H0.65V0.65H-0.65ZM-0.5,-0.5V0.5H0.5V-0.5Z",
                                          "M-2.5,-0.2H-0.65V0.2H-2.5ZM0.65,-0.2H2.5V0.2H0.65ZM-0.7,0A0.7,0.7 0 1,1 0.7,0A0.7,0.7 0 1,1 -0.7,0ZM-0.55,0A0.55,0.55 0 1,0 0.55,0A0.55,0.55 0 1,0 -0.55,0Z",
                                          "M-2.5,-0.2H-0.4V0.2H-2.5ZM0.4,-0.2H2.5V0.2H0.4ZM0,-0.78L0.75,0.52L-0.75,0.52ZM0,-0.48L-0.49,0.37L0.49,0.37Z",
                                          "M-2.5,-0.2H-0.65V0.2H-2.5ZM0.65,-0.2H2.5V0.2H0.65ZM-0.65,-0.65H0.65V0.65H-0.65ZM-0.5,-0.5V0.5H0.5V-0.5Z",
                                          "M-2.5,-0.2H-0.65V0.2H-2.5ZM0.65,-0.2H2.5V0.2H0.65ZM-0.7,0A0.7,0.7 0 1,1 0.7,0A0.7,0.7 0 1,1 -0.7,0ZM-0.55,0A0.55,0.55 0 1,0 0.55,0A0.55,0.55 0 1,0 -0.55,0Z",
                                          "M-2.5,-0.2H-0.4V0.2H-2.5ZM0.4,-0.2H2.5V0.2H0.4ZM0,-0.78L0.75,0.52L-0.75,0.52ZM0,-0.48L-0.49,0.37L0.49,0.37Z"]},
                      "legend": {"orient": "none", "legendX": 186, "legendY": 216, "title": null, "symbolSize": 400, "symbolStrokeWidth": 0,
                                 "labelFontSize": 20, "labelFont": "Liberation Sans", "labelColor": "black", "rowPadding": 5, "labelOffset": 19,
                                 "encoding": {"symbols": {
                                   "fill": {"condition": {"test": "datum.value == 'ND-1500/s' || datum.value == '45ND-1500/s' || datum.value == '90ND-1500/s'", "value": "#ee1c1c"}, "value": "#1a1ae6"},
                                   "fillOpacity": {"value": 1},
                                   "opacity": {"value": 1},
                                   "strokeWidth": {"value": 0}
                                 }}}}
          }
        }
      ],
      "resolve": {"axis": {"x": "independent", "y": "independent"}, "scale": {"shape": "independent"}, "legend": {"shape": "independent"}}
    }
  ],
  "spacing": 126,
  "bounds": "flush",
  "resolve": {"scale": {"x": "independent", "y": "independent", "shape": "independent"}, "legend": {"shape": "independent"}},
  "config": {
    "view": {"stroke": null},
    "font": "Liberation Sans",
    "axis": {"grid": false, "domainColor": "black", "domainWidth": 2.5, "tickColor": "black", "tickWidth": 2,
             "labelFont": "Liberation Sans", "labelFontSize": 19, "labelColor": "black", "labelFlush": false, "labelOverlap": false,
             "titleFont": "Liberation Sans", "titleFontSize": 36, "titleFontWeight": "normal", "titleColor": "black"}
  }
}
